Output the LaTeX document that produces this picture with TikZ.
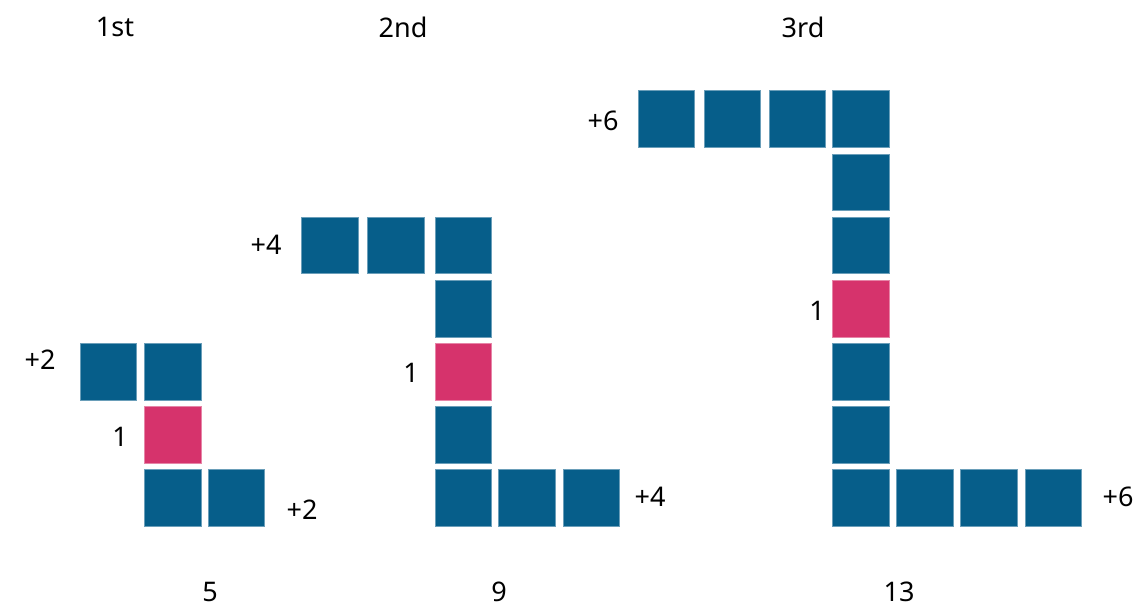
\documentclass[tikz,border=0pt]{standalone}
\usepackage{fontspec}
\setmainfont{Noto Sans}
\definecolor{sqblue}{HTML}{065E8A}
\definecolor{sqpink}{HTML}{D6336C}
\begin{document}
\begin{tikzpicture}[x=1pt,y=-1pt,
  sq/.style={minimum size=56.5pt,inner sep=0pt,fill=sqblue,draw=sqblue!60!white,line width=0.6pt},
  pk/.style={sq,fill=sqpink,draw=sqpink!60!white},
  lbl/.style={font=\fontsize{27}{31}\selectfont,inner sep=0pt,text=black}]
\useasboundingbox (0,0) rectangle (1138,613);
% 1st
\node[sq] (a1) at (108.5,372) {};
\node[sq] (a2) at (173,372) {};
\node[pk] (a3) at (173,435) {};
\node[sq] (a4) at (173,498) {};
\node[sq] (a5) at (236.5,498) {};
% 2nd
\node[sq] (b1) at (330,245.5) {};
\node[sq] (b2) at (396,245.5) {};
\node[sq] (b3) at (463.5,245.5) {};
\node[sq] (b4) at (463.5,309) {};
\node[pk] (b5) at (463.5,372) {};
\node[sq] (b6) at (463.5,435) {};
\node[sq] (b7) at (463.5,498) {};
\node[sq] (b8) at (527,498) {};
\node[sq] (b9) at (591.5,498) {};
% 3rd
\node[sq] (c1) at (666.5,119) {};
\node[sq] (c2) at (732.5,119) {};
\node[sq] (c3) at (797.5,119) {};
\node[sq] (c4) at (861,119) {};
\node[sq] (c5) at (861,182.5) {};
\node[sq] (c6) at (861,245.5) {};
\node[pk] (c7) at (861,309) {};
\node[sq] (c8) at (861,372) {};
\node[sq] (c9) at (861,435) {};
\node[sq] (c10) at (861,498) {};
\node[sq] (c11) at (925,498) {};
\node[sq] (c12) at (989,498) {};
\node[sq] (c13) at (1053.5,498) {};
% labels
\node[lbl] (t1) at (115,27) {1st};
\node[lbl] (t2) at (403,27) {2nd};
\node[lbl] (t3) at (803,27) {3rd};
\node[lbl] (l1) at (40,360) {+2};
\node[lbl] (l2) at (120,437) {1};
\node[lbl] (l3) at (302,510) {+2};
\node[lbl] (m1) at (266,245) {+4};
\node[lbl] (m2) at (411,373) {1};
\node[lbl] (m3) at (650,497) {+4};
\node[lbl] (n1) at (603,121) {+6};
\node[lbl] (n2) at (817,311) {1};
\node[lbl] (n3) at (1118,497) {+6};
\node[lbl] (s1) at (210,592) {5};
\node[lbl] (s2) at (499,592) {9};
\node[lbl] (s3) at (899,592) {13};
\end{tikzpicture}
\end{document}
